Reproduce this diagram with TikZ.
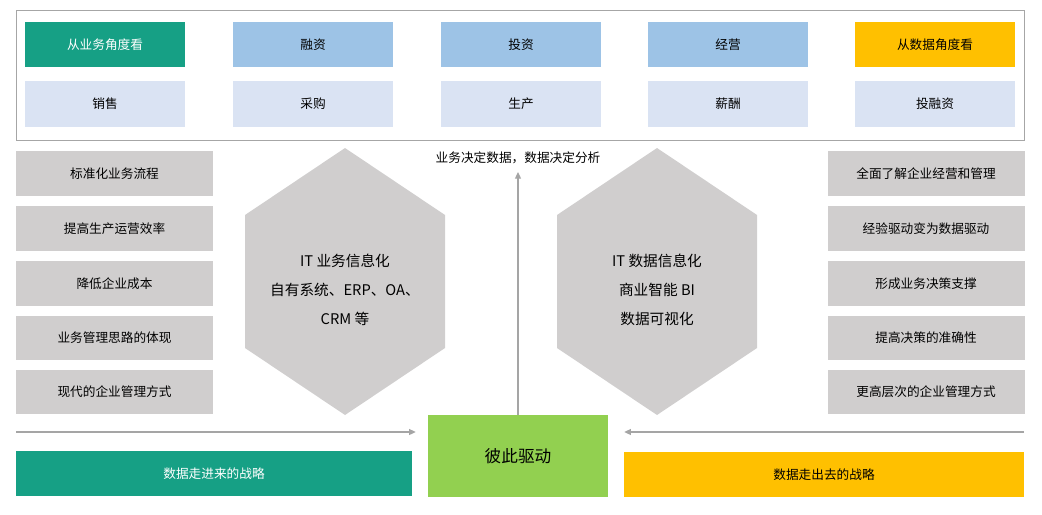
\documentclass[tikz,border=0pt]{standalone}
\usepackage{fontspec}
\usetikzlibrary{arrows.meta}
\setmainfont{Noto Sans CJK SC}
\begin{document}
\begin{tikzpicture}[x=0.75pt,y=-0.75pt,
 bx/.style={minimum width=120pt,minimum height=34pt,inner sep=0pt,font=\fontsize{9.5}{11}\selectfont},
 teal/.style={bx,fill=teal1,text=white},
 lb/.style={bx,fill=lblue},
 lv/.style={bx,fill=lav},
 yl/.style={bx,fill=yel},
 gb/.style={minimum width=147.75pt,minimum height=33.5pt,inner sep=0pt,fill=gry,font=\fontsize{9.5}{11}\selectfont},
 arr/.style={draw=arrc,line width=0.9pt,-{Triangle[length=5pt,width=4.5pt]}}]
\definecolor{teal1}{HTML}{16A085}
\definecolor{lblue}{HTML}{9DC3E6}
\definecolor{lav}{HTML}{DAE3F3}
\definecolor{yel}{HTML}{FFC000}
\definecolor{gry}{HTML}{D0CECE}
\definecolor{grn}{HTML}{92D050}
\definecolor{arrc}{HTML}{A5A5A5}
\useasboundingbox (0,0) rectangle (1042,514);
\draw[draw=black!35] (16,10) rectangle (1024,140);
\node[teal] (r1) at (105,44.5) {从业务角度看};
\node[lb] (r2) at (313,44.5) {融资};
\node[lb] (r3) at (521,44.5) {投资};
\node[lb] (r4) at (728,44.5) {经营};
\node[yl] (r5) at (935,44.5) {从数据角度看};
\node[lv] (s1) at (105,104) {销售};
\node[lv] (s2) at (313,104) {采购};
\node[lv] (s3) at (521,104) {生产};
\node[lv] (s4) at (728,104) {薪酬};
\node[lv] (s5) at (935,104) {投融资};
\node[gb] (l1) at (114.5,173.5) {标准化业务流程};
\node[gb] (l2) at (114.5,228.5) {提高生产运营效率};
\node[gb] (l3) at (114.5,283.5) {降低企业成本};
\node[gb] (l4) at (114.5,338) {业务管理思路的体现};
\node[gb] (l5) at (114.5,392) {现代的企业管理方式};
\node[gb] (q1) at (926,173.5) {全面了解企业经营和管理};
\node[gb] (q2) at (926,228.5) {经验驱动变为数据驱动};
\node[gb] (q3) at (926,283.5) {形成业务决策支撑};
\node[gb] (q4) at (926,338) {提高决策的准确性};
\node[gb] (q5) at (926,392) {更高层次的企业管理方式};
\fill[gry] (345,148) -- (445,215) -- (445,348) -- (345,415) -- (245,348) -- (245,215) -- cycle;
\fill[gry] (657,148) -- (757,215) -- (757,348) -- (657,415) -- (557,348) -- (557,215) -- cycle;
\node[align=center,font=\fontsize{11}{22}\selectfont] (h1) at (345,290) {IT 业务信息化\\自有系统、ERP、OA、\\CRM 等};
\node[align=center,font=\fontsize{11}{22}\selectfont] (h2) at (657,290) {IT 数据信息化\\商业智能 BI\\数据可视化};
\node[fill=grn,minimum width=135pt,minimum height=61.5pt,inner sep=0pt,font=\fontsize{12.5}{14}\selectfont] (g) at (518,456) {彼此驱动};
\node[font=\fontsize{9.5}{11}\selectfont] (t) at (518,158) {业务决定数据，数据决定分析};
\coordinate (tt) at (518,172);
\draw[arr] (g.north) -- (tt);
\coordinate (la) at (16,432);
\coordinate (ra) at (1024,432);
\draw[arr] (la) -- ([xshift=-9pt]g.west|-la);
\draw[arr] (ra) -- ([xshift=12pt]g.east|-ra);
\node[fill=teal1,text=white,minimum width=297pt,minimum height=33.75pt,inner sep=0pt,font=\fontsize{9.5}{11}\selectfont] (b1) at (214,473.5) {数据走进来的战略};
\node[fill=yel,minimum width=300pt,minimum height=33.75pt,inner sep=0pt,font=\fontsize{9.5}{11}\selectfont] (b2) at (824,474.5) {数据走出去的战略};
\end{tikzpicture}
\end{document}
